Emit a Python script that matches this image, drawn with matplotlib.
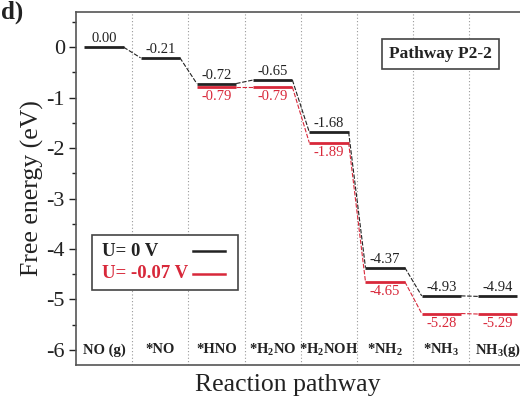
import matplotlib
matplotlib.use("Agg")
import matplotlib.pyplot as plt
from matplotlib.patches import Rectangle
from matplotlib.ticker import MultipleLocator

plt.rcParams["font.family"] = ["Liberation Serif", "DejaVu Serif"]
plt.rcParams["mathtext.fontset"] = "custom"
plt.rcParams["mathtext.rm"] = "Liberation Serif:bold"
plt.rcParams["mathtext.bf"] = "Liberation Serif:bold"
plt.rcParams["mathtext.default"] = "bf"

# Intermediates along the NO reduction pathway
species = ["NO (g)", "*NO", "*HNO", "*H$_2$NO", "*H$_2$NOH",
           "*NH$_2$", "*NH$_3$", "NH$_3$(g)"]
g_u0 = [0.00, -0.21, -0.72, -0.65, -1.68, -4.37, -4.93, -4.94]
g_u007 = [None, None, -0.79, -0.79, -1.89, -4.65, -5.28, -5.29]
legend_labels = ["U= 0 V", "U= -0.07 V"]

BLACK = "#222222"
RED = "#d8283a"
HALF = 0.35  # half-width of each energy level

fig = plt.figure(figsize=(5.2, 3.98), dpi=100)
ax = fig.add_axes([0.146, 0.083, 0.865, 0.887])


def draw_profile(values, color, above, z):
    pts = [(i, v) for i, v in enumerate(values) if v is not None]
    # connectors between consecutive levels
    for (i0, v0), (i1, v1) in zip(pts[:-1], pts[1:]):
        ax.plot([i0 + 0.5 + HALF, i1 + 0.5 - HALF], [v0, v1], color=color,
                lw=0.8, ls=(0, (4, 1.5)), zorder=z)
    for i, v in pts:
        ax.plot([i + 0.5 - HALF, i + 0.5 + HALF], [v, v], color=color,
                lw=2.0, solid_capstyle="butt", zorder=z + 1)
        if above:
            ax.text(i + 0.5, v + 0.04, f"{v:.2f}", color=color, fontsize=10.5,
                    ha="center", va="bottom")
        else:
            ax.text(i + 0.5, v - 0.06, f"{v:.2f}", color=color, fontsize=10.5,
                    ha="center", va="top")


draw_profile(g_u007, RED, False, 2)
draw_profile(g_u0, BLACK, True, 4)

# column separators
for i in range(1, len(species)):
    ax.axvline(i, color="#999999", lw=0.8, ls=(0, (1, 2)), zorder=1)

# species names along the bottom of the plot
for i, name in enumerate(species):
    ax.text(i + 0.5, -6.0, name, ha="center", va="center", fontsize=10.5,
            fontweight="bold", color=BLACK)

ax.set_xlim(0, len(species))
ax.set_ylim(-6.3, 0.7)
ax.yaxis.set_minor_locator(MultipleLocator(0.5))
ax.set_yticks([0, -1, -2, -3, -4, -5, -6])
ax.set_yticklabels(["0", "-1", "-2", "-3", "-4", "-5", "-6"])
ax.tick_params(axis="y", which="major", direction="out", length=5, width=1,
               labelsize=16, colors=BLACK, pad=3)
ax.tick_params(axis="y", which="minor", direction="out", length=3, width=1,
               colors=BLACK)
ax.set_xticks([])
for s in ax.spines.values():
    s.set_color("#555555")
    s.set_linewidth(1.2)

ax.set_ylabel("Free energy (eV)", fontsize=18.5, color=BLACK, labelpad=2)
ax.set_xlabel("Reaction pathway", fontsize=18.5, color=BLACK)
ax.xaxis.set_label_coords(0.472, -0.025, transform=ax.transAxes)
ax.xaxis.label.set_va("top")

# legend: text on the left, line sample on the right
lx0, lx1, ly0, ly1 = 0.036, 0.361, 0.212, 0.368
ax.add_patch(Rectangle((lx0, ly0), lx1 - lx0, ly1 - ly0, transform=ax.transAxes,
                       fc="white", ec="#444444", lw=1.2, zorder=6))
for row, (lab, col) in enumerate(zip(legend_labels, [BLACK, RED])):
    yy = 0.322 - row * 0.064
    ax.text(0.058, yy, lab, transform=ax.transAxes, color=col, fontsize=13.5,
            fontweight="bold", ha="left", va="center", zorder=7)
    ax.plot([0.261, 0.332], [yy, yy], transform=ax.transAxes, color=col,
            lw=1.8, zorder=7)

ax.text(0.811, 0.882, "Pathway P2-2", transform=ax.transAxes, ha="center",
        va="center", fontsize=12.5, fontweight="bold", color=BLACK,
        bbox=dict(boxstyle="square,pad=0.4", fc="white", ec="#444444", lw=1.2))

fig.text(0.002, 0.998, "d)", ha="left", va="top", fontsize=18,
         fontweight="bold", color=BLACK)

fig.savefig("out.png", dpi=100)
